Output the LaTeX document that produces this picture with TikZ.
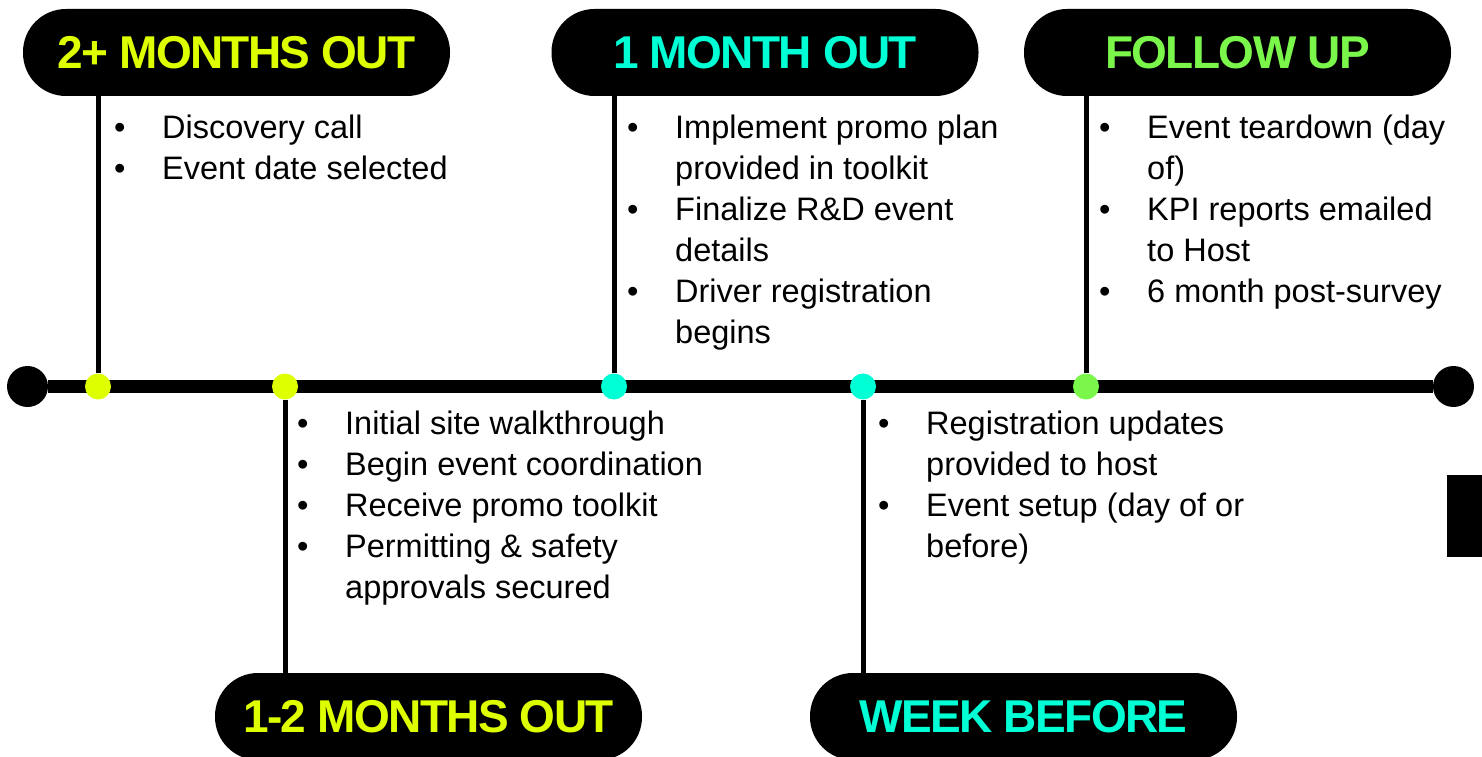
\documentclass[tikz,border=0pt]{standalone}
\usepackage{fontspec}
\setmainfont{Liberation Sans}
\newfontfamily\headfont[LetterSpace=-3.5]{Liberation Sans}
\definecolor{limeY}{HTML}{DDFF00}
\definecolor{aquaC}{HTML}{00FFD4}
\definecolor{leafG}{HTML}{7AF74A}
\tikzset{
  pill/.style={fill=black, rounded corners=43pt, minimum width=427pt,
    minimum height=87pt, inner sep=0pt,
    font=\headfont\bfseries\fontsize{46}{46}\selectfont},
  dot/.style={circle, inner sep=0pt, minimum size=26pt},
  endcap/.style={circle, fill=black, inner sep=0pt, minimum size=41pt},
  stem/.style={line width=5pt},
  notes/.style={anchor=north west, align=left, inner sep=0pt,
    font=\fontsize{32.5}{41}\selectfont}
}
\newcommand{\bitem}[1]{\strut\makebox[48pt][l]{\textbullet}#1}
\newcommand{\bcont}[1]{\strut\hspace*{48pt}#1}
\begin{document}
\begin{tikzpicture}[x=1pt,y=-1pt]
  \useasboundingbox (0,0) rectangle (1482,757);
  % phase labels
  \node[pill, text=limeY] (p1) at (236.5,52.5) {2+ MONTHS OUT};
  \node[pill, text=limeY] (p2) at (428.5,716.5) {1-2 MONTHS OUT};
  \node[pill, text=aquaC] (p3) at (765,52.5) {1 MONTH OUT};
  \node[pill, text=aquaC] (p4) at (1023.5,716.5) {WEEK BEFORE};
  \node[pill, text=leafG] (p5) at (1237.5,52.5) {FOLLOW UP};
  % timeline
  \node[endcap] (start) at (27.5,386.5) {};
  \node[endcap] (end) at (1453.5,386.5) {};
  \draw[line width=13pt] (start) -- (end);
  \foreach \n/\x/\c in {1/98/limeY, 2/285/limeY, 3/614/aquaC, 4/863/aquaC, 5/1086/leafG} {
    \node[dot, fill=\c] (d\n) at (\x,386.5) {};
  }
  \foreach \n in {1,3,5} {
    \draw[stem] (d\n) -- (d\n |- p\n.south);
  }
  \foreach \n in {2,4} {
    \draw[stem] (d\n) -- (d\n |- p\n.north);
  }
  % tasks
  \node[notes] (n1) at (114,109.3) {\bitem{Discovery call}\\
    \bitem{Event date selected}};
  \node[notes] (n2) at (297,405.3) {\bitem{Initial site walkthrough}\\
    \bitem{Begin event coordination}\\
    \bitem{Receive promo toolkit}\\
    \bitem{Permitting \& safety}\\
    \bcont{approvals secured}};
  \node[notes] (n3) at (627,109.3) {\bitem{Implement promo plan}\\
    \bcont{provided in toolkit}\\
    \bitem{Finalize R\&D event}\\
    \bcont{details}\\
    \bitem{Driver registration}\\
    \bcont{begins}};
  \node[notes] (n4) at (878,405.3) {\bitem{Registration updates}\\
    \bcont{provided to host}\\
    \bitem{Event setup (day of or}\\
    \bcont{before)}};
  \node[notes] (n5) at (1099,109.3) {\bitem{Event teardown (day}\\
    \bcont{of)}\\
    \bitem{KPI reports emailed}\\
    \bcont{to Host}\\
    \bitem{6 month post-survey}};
  % edge block
  \fill (1447,475) rectangle (1482,557);
\end{tikzpicture}
\end{document}
